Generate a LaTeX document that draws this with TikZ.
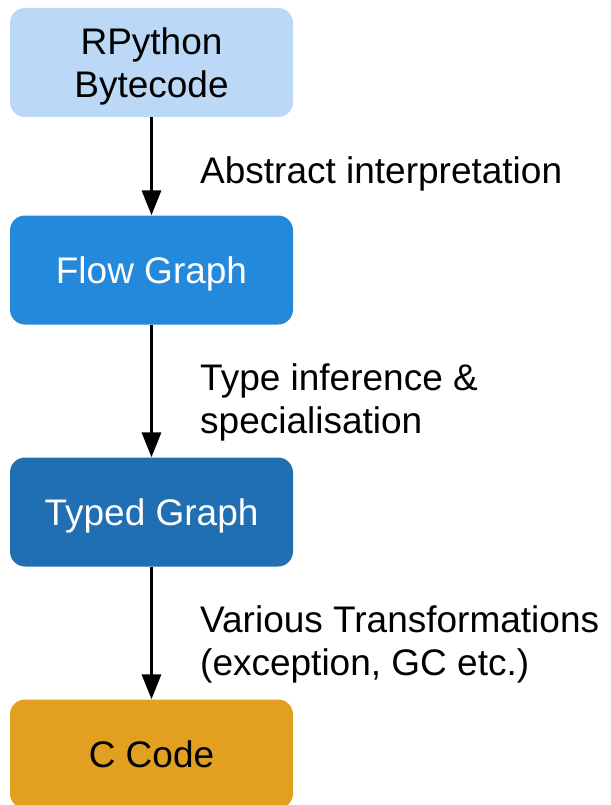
\documentclass[tikz,border=0pt]{standalone}
\usepackage{fontspec}
\setmainfont{Liberation Sans}
\usetikzlibrary{arrows.meta}
\definecolor{boxlight}{HTML}{BBD8F6}
\definecolor{boxflow}{HTML}{2488DB}
\definecolor{boxtyped}{HTML}{1F6FB2}
\definecolor{boxcode}{HTML}{E2A020}
\begin{document}
\begin{tikzpicture}[x=1pt,y=-1pt,
  stage/.style={rounded corners=15pt, minimum width=283pt, minimum height=109pt,
    inner sep=0pt, text depth=0pt, align=center, font=\fontsize{37}{43}\selectfont},
  steplabel/.style={anchor=west, align=left, inner sep=0pt,
    font=\fontsize{37}{43}\selectfont},
  flow/.style={line width=3.2pt, -{Triangle[width=19pt,length=25pt]}}]
\clip (0,0) rectangle (610,805);
\fill[white] (0,0) rectangle (610,805);
\node[stage, fill=boxlight, text=black] (src) at (151.5,62.5) {RPython\\Bytecode};
\node[stage, fill=boxflow, text=white] (fg) at (151.5,270) {Flow Graph};
\node[stage, fill=boxtyped, text=white] (tg) at (151.5,512) {Typed Graph};
\node[stage, fill=boxcode, text=black] (cc) at (151.5,754) {C Code};
\draw[flow] (src) -- (fg);
\draw[flow] (fg) -- (tg);
\draw[flow] (tg) -- (cc);
\node[steplabel] (l1) at (200,174) {Abstract interpretation};
\node[steplabel] (l2) at (200,402) {Type inference \&\\specialisation};
\node[steplabel] (l3) at (200,644) {Various Transformations\\(exception, GC etc.)};
\end{tikzpicture}
\end{document}
